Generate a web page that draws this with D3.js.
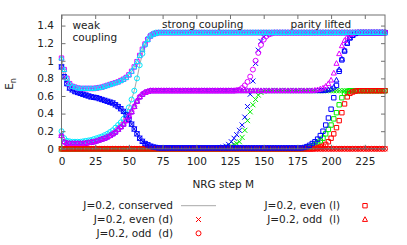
<!DOCTYPE html>
<html>
<head>
<meta charset="utf-8">
<script src="https://cdn.jsdelivr.net/npm/d3@7"></script>
<style>
  body { margin: 0; background: #fff; }
  svg text { font-family: "DejaVu Sans", sans-serif; font-size: 10.5px; fill: #222; }
</style>
</head>
<body>
<svg width="407" height="245"></svg>
<script>
// NRG flow: E_n against NRG step M (even steps only)
const steps = [
  0, 2, 4, 6, 8, 10, 12, 14, 16, 18,
  20, 22, 24, 26, 28, 30, 32, 34, 36, 38,
  40, 42, 44, 46, 48, 50, 52, 54, 56, 58,
  60, 62, 64, 66, 68, 70, 72, 74, 76, 78,
  80, 82, 84, 86, 88, 90, 92, 94, 96, 98,
  100, 102, 104, 106, 108, 110, 112, 114, 116, 118,
  120, 122, 124, 126, 128, 130, 132, 134, 136, 138,
  140, 142, 144, 146, 148, 150, 152, 154, 156, 158,
  160, 162, 164, 166, 168, 170, 172, 174, 176, 178,
  180, 182, 184, 186, 188, 190, 192, 194, 196, 198,
  200, 202, 204, 206, 208, 210, 212, 214, 216, 218,
  220, 222, 224, 226, 228, 230, 232, 234, 236, 238,
  240
];

// weak coupling part, M = 0..78
const earlyDescent = [
  0.93, 0.82, 0.74, 0.69, 0.67, 0.65, 0.64, 0.63, 0.62, 0.61,
  0.60, 0.59, 0.585, 0.58, 0.57, 0.56, 0.55, 0.54, 0.53, 0.52,
  0.50, 0.48, 0.455, 0.425, 0.385, 0.335, 0.28, 0.225, 0.17, 0.12,
  0.085, 0.06, 0.045, 0.03, 0.02, 0.015, 0.01, 0.01, 0.01, 0.01
];
const earlyLower = [
  0.15, 0.08, 0.065, 0.06, 0.06, 0.06, 0.06, 0.06, 0.06, 0.065,
  0.07, 0.075, 0.08, 0.09, 0.10, 0.11, 0.12, 0.135, 0.15, 0.17,
  0.19, 0.22, 0.25, 0.28, 0.32, 0.37, 0.42, 0.48, 0.54, 0.59,
  0.62, 0.64, 0.65, 0.66, 0.66, 0.66, 0.66, 0.66, 0.66, 0.66
];
const earlyLowerCyan = [
  0.20, 0.12, 0.09, 0.085, 0.08, 0.08, 0.08, 0.08, 0.085, 0.09,
  0.095, 0.10, 0.11, 0.12, 0.13, 0.14, 0.155, 0.17, 0.19, 0.21,
  0.24, 0.27, 0.30, 0.34, 0.40, 0.47, 0.56, 0.66, 0.80, 0.95,
  1.08, 1.18, 1.25, 1.29, 1.31, 1.32, 1.32, 1.32, 1.32, 1.32
];
const earlyUpper = [
  1.03, 0.90, 0.80, 0.74, 0.71, 0.70, 0.69, 0.685, 0.685, 0.685,
  0.685, 0.685, 0.685, 0.69, 0.695, 0.70, 0.71, 0.72, 0.73, 0.74,
  0.75, 0.76, 0.775, 0.79, 0.81, 0.84, 0.88, 0.93, 0.99, 1.06,
  1.13, 1.19, 1.24, 1.28, 1.30, 1.31, 1.32, 1.32, 1.32, 1.32
];

// M = 80..240
const levelTop = [
  1.32, 1.32, 1.32, 1.32, 1.32, 1.32, 1.32, 1.32, 1.32, 1.32,
  1.32, 1.32, 1.32, 1.32, 1.32, 1.32, 1.32, 1.32, 1.32, 1.32,
  1.32, 1.32, 1.32, 1.32, 1.32, 1.32, 1.32, 1.32, 1.32, 1.32,
  1.32, 1.32, 1.32, 1.32, 1.32, 1.32, 1.32, 1.32, 1.32, 1.32,
  1.32, 1.32, 1.32, 1.32, 1.32, 1.32, 1.32, 1.32, 1.32, 1.32,
  1.32, 1.32, 1.32, 1.32, 1.32, 1.32, 1.32, 1.32, 1.32, 1.32,
  1.32, 1.32, 1.32, 1.32, 1.32, 1.32, 1.32, 1.32, 1.32, 1.32,
  1.32, 1.32, 1.32, 1.32, 1.32, 1.32, 1.32, 1.32, 1.32, 1.32,
  1.32
];
const levelMid = [
  0.66, 0.66, 0.66, 0.66, 0.66, 0.66, 0.66, 0.66, 0.66, 0.66,
  0.66, 0.66, 0.66, 0.66, 0.66, 0.66, 0.66, 0.66, 0.66, 0.66,
  0.66, 0.66, 0.66, 0.66, 0.66, 0.66, 0.66, 0.66, 0.66, 0.66,
  0.66, 0.66, 0.66, 0.66, 0.66, 0.66, 0.66, 0.66, 0.66, 0.66,
  0.66, 0.66, 0.66, 0.66, 0.66, 0.66, 0.66, 0.66, 0.66, 0.66,
  0.66, 0.66, 0.66, 0.66, 0.66, 0.66, 0.66, 0.66, 0.66, 0.66,
  0.66, 0.66, 0.66, 0.66, 0.66, 0.66, 0.66, 0.66, 0.66, 0.66,
  0.66, 0.66, 0.66, 0.66, 0.66, 0.66, 0.66, 0.66, 0.66, 0.66,
  0.66
];
const levelFloor = [
  0.01, 0.01, 0.01, 0.01, 0.01, 0.01, 0.01, 0.01, 0.01, 0.01,
  0.01, 0.01, 0.01, 0.01, 0.01, 0.01, 0.01, 0.01, 0.01, 0.01,
  0.01, 0.01, 0.01, 0.01, 0.01, 0.01, 0.01, 0.01, 0.01, 0.01,
  0.01, 0.01, 0.01, 0.01, 0.01, 0.01, 0.01, 0.01, 0.01, 0.01,
  0.01, 0.01, 0.01, 0.01, 0.01, 0.01, 0.01, 0.01, 0.01, 0.01,
  0.01, 0.01, 0.01, 0.01, 0.01, 0.01, 0.01, 0.01, 0.01, 0.01,
  0.01, 0.01, 0.01, 0.01, 0.01, 0.01, 0.01, 0.01, 0.01, 0.01,
  0.01, 0.01, 0.01, 0.01, 0.01, 0.01, 0.01, 0.01, 0.01, 0.01,
  0.01
];
const blueRiseDot = [
  0.01, 0.01, 0.01, 0.01, 0.01, 0.01, 0.01, 0.01, 0.01, 0.01,
  0.01, 0.01, 0.01, 0.01, 0.01, 0.01, 0.01, 0.01, 0.01, 0.015,
  0.02, 0.03, 0.05, 0.08, 0.12, 0.16, 0.21, 0.27, 0.36, 0.48,
  0.62, 0.77, 0.97, 1.12, 1.22, 1.27, 1.30, 1.31, 1.32, 1.32,
  1.32, 1.32, 1.32, 1.32, 1.32, 1.32, 1.32, 1.32, 1.32, 1.32,
  1.32, 1.32, 1.32, 1.32, 1.32, 1.32, 1.32, 1.32, 1.32, 1.32,
  1.32, 1.32, 1.32, 1.32, 1.32, 1.32, 1.32, 1.32, 1.32, 1.32,
  1.32, 1.32, 1.32, 1.32, 1.32, 1.32, 1.32, 1.32, 1.32, 1.32,
  1.32
];
const blueRiseLead = [
  0.01, 0.01, 0.01, 0.01, 0.01, 0.01, 0.01, 0.01, 0.01, 0.01,
  0.01, 0.01, 0.01, 0.01, 0.01, 0.01, 0.01, 0.01, 0.01, 0.01,
  0.01, 0.01, 0.01, 0.01, 0.01, 0.01, 0.01, 0.01, 0.01, 0.01,
  0.01, 0.01, 0.01, 0.01, 0.01, 0.01, 0.01, 0.01, 0.01, 0.01,
  0.01, 0.01, 0.01, 0.01, 0.01, 0.01, 0.01, 0.01, 0.01, 0.01,
  0.015, 0.025, 0.04, 0.06, 0.08, 0.11, 0.15, 0.20, 0.27, 0.35,
  0.45, 0.58, 0.72, 0.88, 1.01, 1.11, 1.20, 1.26, 1.29, 1.31,
  1.32, 1.32, 1.32, 1.32, 1.32, 1.32, 1.32, 1.32, 1.32, 1.32,
  1.32
];
const magentaRiseDot = [
  0.66, 0.66, 0.66, 0.66, 0.66, 0.66, 0.66, 0.66, 0.66, 0.66,
  0.66, 0.66, 0.66, 0.66, 0.66, 0.66, 0.66, 0.66, 0.66, 0.66,
  0.66, 0.66, 0.66, 0.66, 0.66, 0.665, 0.67, 0.69, 0.72, 0.76,
  0.82, 0.90, 1.00, 1.09, 1.18, 1.24, 1.28, 1.30, 1.31, 1.32,
  1.32, 1.32, 1.32, 1.32, 1.32, 1.32, 1.32, 1.32, 1.32, 1.32,
  1.32, 1.32, 1.32, 1.32, 1.32, 1.32, 1.32, 1.32, 1.32, 1.32,
  1.32, 1.32, 1.32, 1.32, 1.32, 1.32, 1.32, 1.32, 1.32, 1.32,
  1.32, 1.32, 1.32, 1.32, 1.32, 1.32, 1.32, 1.32, 1.32, 1.32,
  1.32
];
const magentaRiseLead = [
  0.66, 0.66, 0.66, 0.66, 0.66, 0.66, 0.66, 0.66, 0.66, 0.66,
  0.66, 0.66, 0.66, 0.66, 0.66, 0.66, 0.66, 0.66, 0.66, 0.66,
  0.66, 0.66, 0.66, 0.66, 0.66, 0.66, 0.66, 0.66, 0.66, 0.66,
  0.66, 0.66, 0.66, 0.66, 0.66, 0.66, 0.66, 0.66, 0.66, 0.66,
  0.66, 0.66, 0.66, 0.66, 0.66, 0.66, 0.66, 0.66, 0.66, 0.66,
  0.66, 0.66, 0.66, 0.66, 0.665, 0.67, 0.68, 0.69, 0.71, 0.74,
  0.78, 0.86, 0.97, 1.08, 1.17, 1.23, 1.27, 1.30, 1.31, 1.32,
  1.32, 1.32, 1.32, 1.32, 1.32, 1.32, 1.32, 1.32, 1.32, 1.32,
  1.32
];
const blueRiseOdd = [
  0.66, 0.66, 0.66, 0.66, 0.66, 0.66, 0.66, 0.66, 0.66, 0.66,
  0.66, 0.66, 0.66, 0.66, 0.66, 0.66, 0.66, 0.66, 0.66, 0.66,
  0.66, 0.66, 0.66, 0.66, 0.66, 0.66, 0.66, 0.66, 0.66, 0.66,
  0.66, 0.66, 0.66, 0.66, 0.66, 0.66, 0.66, 0.66, 0.66, 0.66,
  0.66, 0.66, 0.66, 0.66, 0.66, 0.66, 0.66, 0.66, 0.66, 0.66,
  0.66, 0.66, 0.66, 0.66, 0.66, 0.66, 0.66, 0.66, 0.665, 0.67,
  0.68, 0.70, 0.78, 0.90, 1.02, 1.12, 1.20, 1.26, 1.29, 1.31,
  1.32, 1.32, 1.32, 1.32, 1.32, 1.32, 1.32, 1.32, 1.32, 1.32,
  1.32
];

// whole range, M = 0..240
const ground = [
  0, 0, 0, 0, 0, 0, 0, 0, 0, 0,
  0, 0, 0, 0, 0, 0, 0, 0, 0, 0,
  0, 0, 0, 0, 0, 0, 0, 0, 0, 0,
  0, 0, 0, 0, 0, 0, 0, 0, 0, 0,
  0, 0, 0, 0, 0, 0, 0, 0, 0, 0,
  0, 0, 0, 0, 0, 0, 0, 0, 0, 0,
  0, 0, 0, 0, 0, 0, 0, 0, 0, 0,
  0, 0, 0, 0, 0, 0, 0, 0, 0, 0,
  0, 0, 0, 0, 0, 0, 0, 0, 0, 0,
  0, 0, 0, 0, 0, 0, 0, 0, 0, 0,
  0, 0, 0, 0, 0, 0, 0, 0, 0, 0,
  0, 0, 0, 0, 0, 0, 0, 0, 0, 0,
  0
];
const greenEvenD = [
  0, 0, 0, 0, 0, 0, 0, 0, 0, 0,
  0, 0, 0, 0, 0, 0, 0, 0, 0, 0,
  0, 0, 0, 0, 0, 0, 0, 0, 0, 0,
  0, 0, 0, 0, 0, 0, 0, 0, 0, 0,
  0, 0, 0, 0, 0, 0, 0, 0, 0, 0,
  0, 0, 0, 0, 0, 0, 0, 0, 0, 0,
  0.005, 0.01, 0.02, 0.03, 0.05, 0.06, 0.08, 0.13, 0.21, 0.32,
  0.42, 0.50, 0.56, 0.61, 0.64, 0.655, 0.66, 0.66, 0.66, 0.66,
  0.66, 0.66, 0.66, 0.66, 0.66, 0.66, 0.66, 0.66, 0.66, 0.66,
  0.66, 0.66, 0.66, 0.66, 0.66, 0.66, 0.66, 0.66, 0.66, 0.66,
  0.66, 0.66, 0.66, 0.66, 0.66, 0.66, 0.66, 0.66, 0.66, 0.66,
  0.66, 0.66, 0.66, 0.66, 0.66, 0.66, 0.66, 0.66, 0.66, 0.66,
  0.66
];
const redEvenL = [
  0, 0, 0, 0, 0, 0, 0, 0, 0, 0,
  0, 0, 0, 0, 0, 0, 0, 0, 0, 0,
  0, 0, 0, 0, 0, 0, 0, 0, 0, 0,
  0, 0, 0, 0, 0, 0, 0, 0, 0, 0,
  0, 0, 0, 0, 0, 0, 0, 0, 0, 0,
  0, 0, 0, 0, 0, 0, 0, 0, 0, 0,
  0, 0, 0, 0, 0, 0, 0, 0, 0, 0,
  0, 0, 0, 0, 0, 0, 0, 0, 0, 0,
  0, 0, 0, 0, 0, 0, 0, 0, 0, 0,
  0, 0, 0, 0, 0.005, 0.01, 0.02, 0.03, 0.05, 0.08,
  0.12, 0.17, 0.24, 0.32, 0.41, 0.51, 0.59, 0.63, 0.645, 0.655,
  0.66, 0.66, 0.66, 0.66, 0.66, 0.66, 0.66, 0.66, 0.66, 0.66,
  0.66
];
const greenEvenL = [
  0, 0, 0, 0, 0, 0, 0, 0, 0, 0,
  0, 0, 0, 0, 0, 0, 0, 0, 0, 0,
  0, 0, 0, 0, 0, 0, 0, 0, 0, 0,
  0, 0, 0, 0, 0, 0, 0, 0, 0, 0,
  0, 0, 0, 0, 0, 0, 0, 0, 0, 0,
  0, 0, 0, 0, 0, 0, 0, 0, 0, 0,
  0, 0, 0, 0, 0, 0, 0, 0, 0, 0,
  0, 0, 0, 0, 0, 0, 0, 0, 0, 0,
  0, 0, 0, 0, 0, 0, 0, 0, 0, 0,
  0, 0.01, 0.02, 0.03, 0.05, 0.07, 0.09, 0.12, 0.17, 0.22,
  0.27, 0.34, 0.41, 0.50, 0.58, 0.63, 0.65, 0.66, 0.66, 0.66,
  0.66, 0.66, 0.66, 0.66, 0.66, 0.66, 0.66, 0.66, 0.66, 0.66,
  0.66
];

const blueEvenD = earlyDescent.concat(blueRiseDot);
const blueEvenL = earlyDescent.concat(blueRiseLead);
const descConserved = earlyDescent.concat(levelFloor);
const magentaOddD = earlyLower.concat(magentaRiseDot);
const magentaOddL = earlyLower.concat(magentaRiseLead);
const blueOddL = earlyLower.concat(blueRiseOdd);
const lowerConserved = earlyLower.concat(levelMid);
const cyanOddD = earlyLowerCyan.concat(levelTop);
const upperBranch = earlyUpper.concat(levelTop);

const xTicks = [0, 25, 50, 75, 100, 125, 150, 175, 200, 225];
const yTicks = [0, 0.2, 0.4, 0.6, 0.8, 1, 1.2, 1.4];

const red = "#ff0000", green = "#00ee00", blue = "#0000ff",
      magenta = "#e000ff", cyan = "#00e8ff", gray = "#a8a8a8";

const conservedLevels = [ground, descConserved, lowerConserved, cyanOddD, upperBranch];

// plotting order as in the original (later ones on top)
const markerSeries = [
  { values: ground, color: red, shape: "times" },
  { values: greenEvenD, color: green, shape: "times" },
  { values: blueEvenD, color: blue, shape: "times" },
  { values: ground, color: red, shape: "circle" },
  { values: magentaOddD, color: magenta, shape: "circle" },
  { values: cyanOddD, color: cyan, shape: "circle" },
  { values: greenEvenL, color: green, shape: "square" },
  { values: redEvenL, color: red, shape: "square" },
  { values: blueEvenL, color: blue, shape: "square" },
  { values: upperBranch, color: magenta, shape: "square" },
  { values: blueOddL, color: blue, shape: "triangle" },
  { values: magentaOddL, color: magenta, shape: "triangle" },
  { values: upperBranch, color: cyan, shape: "triangle" }
];

const legendLeft = [
  { label: "J=0.2, conserved", kind: "line" },
  { label: "J=0.2, even (d)", kind: "times" },
  { label: "J=0.2, odd  (d)", kind: "circle" }
];
const legendRight = [
  { label: "J=0.2, even (l)", kind: "square" },
  { label: "J=0.2, odd  (l)", kind: "triangle" }
];

const svg = d3.select("svg");
const plotLeft = 61.5, plotRight = 385, plotTop = 15, plotBottom = 148.8;

const x = d3.scaleLinear().domain([0, 240]).range([plotLeft, plotRight]);
const y = d3.scaleLinear().domain([0, 1.52]).range([plotBottom, plotTop]);

// marker shapes for d3.symbol, size = half width in px
const shapes = {
  times: { draw(c, s) { c.moveTo(-s, -s); c.lineTo(s, s); c.moveTo(-s, s); c.lineTo(s, -s); } },
  circle: { draw(c, s) { c.moveTo(s, 0); c.arc(0, 0, s, 0, 2 * Math.PI); } },
  square: { draw(c, s) { c.rect(-s, -s, 2 * s, 2 * s); } },
  triangle: { draw(c, s) { c.moveTo(0, -s * 1.15); c.lineTo(s * 1.05, s * 0.8); c.lineTo(-s * 1.05, s * 0.8); c.closePath(); } }
};
const shapeSize = { times: 2.5, circle: 2.5, square: 2.2, triangle: 2.4 };

// conserved: thin gray lines
const line = d3.line().x((d, i) => x(steps[i])).y(d => y(d));
svg.append("g")
  .selectAll("path")
  .data(conservedLevels)
  .join("path")
  .attr("d", line)
  .attr("fill", "none")
  .attr("stroke", gray)
  .attr("stroke-width", 1);

// point series
markerSeries.forEach(s => {
  const sym = d3.symbol(shapes[s.shape], shapeSize[s.shape]);
  svg.append("g")
    .selectAll("path")
    .data(s.values)
    .join("path")
    .attr("transform", (d, i) => `translate(${x(steps[i])},${y(d)})`)
    .attr("d", sym)
    .attr("fill", "none")
    .attr("stroke", s.color)
    .attr("stroke-width", 1);
});

// axes with inward ticks on all sides
const axisColor = "#707070";
const gx = svg.append("g").attr("transform", `translate(0,${plotBottom})`)
  .call(d3.axisBottom(x).tickValues(xTicks).tickSize(-4).tickPadding(8.5));
const gxTop = svg.append("g").attr("transform", `translate(0,${plotTop})`)
  .call(d3.axisTop(x).tickValues(xTicks).tickSize(-4).tickFormat(""));
const gy = svg.append("g").attr("transform", `translate(${plotLeft},0)`)
  .call(d3.axisLeft(y).tickValues(yTicks).tickSize(-4).tickPadding(7.5).tickFormat(d3.format("~g")));
const gyRight = svg.append("g").attr("transform", `translate(${plotRight},0)`)
  .call(d3.axisRight(y).tickValues(yTicks).tickSize(-4).tickFormat(""));
[gx, gxTop, gy, gyRight].forEach(g => {
  g.attr("font-family", null).attr("font-size", null);
  g.select(".domain").remove();
  g.selectAll("line").attr("stroke", axisColor);
  g.selectAll("text").attr("fill", "#222");
});
svg.append("rect")
  .attr("x", plotLeft).attr("y", plotTop)
  .attr("width", plotRight - plotLeft).attr("height", plotBottom - plotTop)
  .attr("fill", "none").attr("stroke", axisColor).attr("stroke-width", 1);

// regime labels
svg.append("text").attr("x", 72.5).attr("y", 29).text("weak");
svg.append("text").attr("x", 72.5).attr("y", 41).text("coupling");
svg.append("text").attr("x", 162).attr("y", 28).text("strong coupling");
svg.append("text").attr("x", 290.5).attr("y", 28).text("parity lifted");

// axis titles
svg.append("text").attr("x", (plotLeft + plotRight) / 2).attr("y", 188)
  .attr("text-anchor", "middle").text("NRG step M");
const yTitle = svg.append("text")
  .attr("transform", "translate(13,84) rotate(-90)")
  .attr("text-anchor", "middle");
yTitle.append("tspan").text("E");
yTitle.append("tspan").attr("dy", 2.5).attr("font-size", "8px").text("n");

// legend
function legendColumn(items, textX, markX) {
  items.forEach((item, i) => {
    const baseY = 209.3 + i * 13.8;
    svg.append("text")
      .attr("x", textX).attr("y", baseY)
      .attr("text-anchor", "end")
      .style("white-space", "pre")
      .text(item.label);
    if (item.kind === "line") {
      svg.append("line")
        .attr("x1", markX - 17.5).attr("x2", markX + 17.5)
        .attr("y1", baseY - 3.6).attr("y2", baseY - 3.6)
        .attr("stroke", gray).attr("stroke-width", 1);
    } else {
      svg.append("path")
        .attr("transform", `translate(${markX},${baseY - 3.6})`)
        .attr("d", d3.symbol(shapes[item.kind], shapeSize[item.kind]))
        .attr("fill", "none").attr("stroke", red).attr("stroke-width", 1);
    }
  });
}
legendColumn(legendLeft, 173, 198.5);
legendColumn(legendRight, 340, 365);
</script>
</body>
</html>
